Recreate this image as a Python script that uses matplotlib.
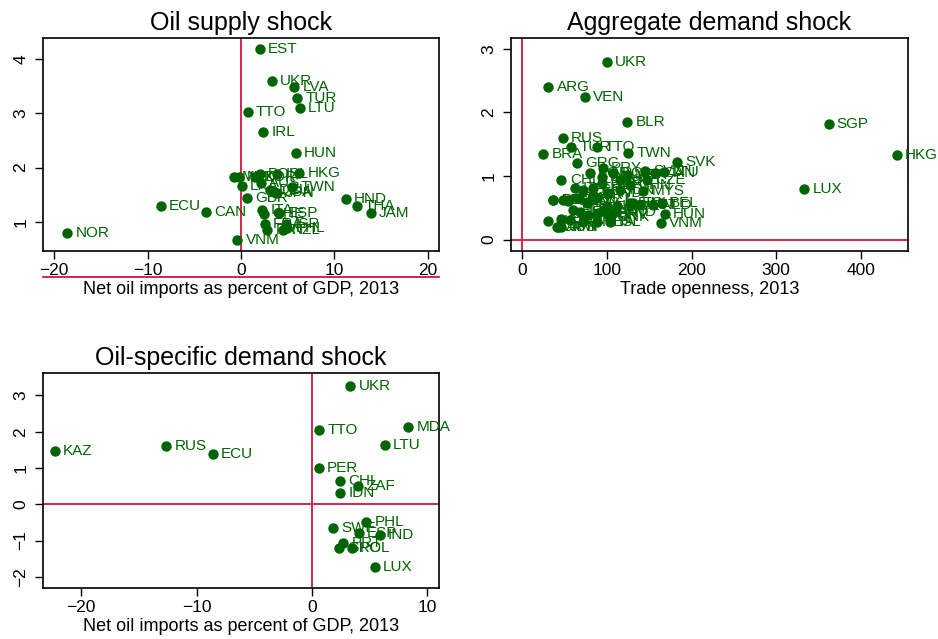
import matplotlib.pyplot as plt

plt.rcParams["font.family"] = ["Liberation Sans", "DejaVu Sans"]

GREEN = "#006400"
RED = "#d2143f"

# ------------------------------
# Data
# Oil supply shock vs net oil imports
p1_iso = ["NOR", "ECU", "CAN", "VNM", "EST", "UKR", "LVA", "TUR", "LTU", "TTO",
          "IRL", "HUN", "HKG", "TWN", "MEX", "NLD", "LKA", "KOR", "POL", "AUS",
          "DEU", "USA", "ISL", "JPN", "GBR", "ITA", "CHE", "ESP", "FRA", "PRT",
          "ISR", "NZL", "PHL", "HND", "THA", "JAM"]
p1_x = [-18.6, -8.6, -3.7, -0.4, 2.0, 3.3, 5.7, 6.0, 6.3, 0.7,
        2.4, 5.85, 6.25, 5.5, -0.8, -0.25, 0.1, 1.5, 2.0, 2.1,
        3.1, 3.5, 3.9, 3.9, 0.65, 2.25, 2.45, 4.1, 2.55, 2.8,
        4.8, 4.5, 4.95, 11.2, 12.4, 13.9]
p1_y = [0.80, 1.29, 1.19, 0.68, 4.18, 3.60, 3.48, 3.27, 3.09, 3.02,
        2.65, 2.26, 1.91, 1.65, 1.82, 1.82, 1.66, 1.82, 1.88, 1.71,
        1.59, 1.56, 1.89, 1.53, 1.45, 1.23, 1.15, 1.16, 0.96, 0.86,
        0.96, 0.85, 0.89, 1.43, 1.29, 1.17]

# Aggregate demand shock vs trade openness
p2_iso = ["UKR", "ARG", "VEN", "BLR", "SGP", "HKG", "LUX", "RUS", "TUR", "TTO",
          "TWN", "BRA", "GRC", "SVK", "PRY", "SVN", "LTU", "CHL", "CZE", "MYS",
          "BEL", "NLD", "HUN", "VNM", "DNK", "USA", "AUS", "JPN", "KOR", "DEU",
          "POL", "MEX", "CAN", "ITA", "ESP", "FRA", "GBR", "IND", "IDN", "CHN",
          "PHL", "PER", "COL", "ZAF", "ISR", "NZL", "NOR", "SWE", "FIN", "AUT",
          "PRT", "IRL", "ROU", "BGR", "HRV", "EST", "LVA", "CHE", "THA", "ISL",
          "KAZ", "ECU", "MDA", "GEO", "JAM", "HND", "URY", "CRI"]
p2_x = [99.9, 30.4, 73.8, 124, 362, 442.6, 333.6, 47.8, 58.0, 87.6,
        125.1, 24.4, 64.0, 182.4, 94.8, 144.5, 167, 46.2, 146.9, 142.8,
        164.6, 154.7, 168.5, 163.8, 103.4, 30.3, 42.2, 46.2, 79.7, 93.6,
        107.3, 123.2, 156.7, 61.9, 71.8, 83.6, 93.6, 101.4, 115.2, 127.1,
        36.2, 48.1, 54.0, 65.9, 75.8, 87.6, 99.5, 111.3, 127.1, 138.9,
        59.9, 67.9, 77.7, 89.5, 101.4, 46.2, 56.0, 71.8, 87.6, 103.4,
        115.2, 131.0, 36.3, 54.0, 40.3, 110.0, 84.0, 96.0]
p2_y = [2.80, 2.40, 2.24, 1.85, 1.82, 1.33, 0.80, 1.59, 1.46, 1.45,
        1.36, 1.34, 1.21, 1.22, 1.12, 1.08, 1.07, 0.94, 0.93, 0.77,
        0.58, 0.55, 0.40, 0.26, 0.36, 0.29, 0.19, 0.20, 1.04, 0.99,
        1.04, 1.02, 1.04, 0.81, 0.78, 0.81, 0.89, 0.73, 0.78, 0.86,
        0.62, 0.62, 0.60, 0.65, 0.57, 0.65, 0.52, 0.52, 0.57, 0.55,
        0.47, 0.44, 0.39, 0.41, 0.39, 0.32, 0.31, 0.28, 0.28, 0.28,
        0.94, 0.58, 0.62, 0.62, 0.19, 0.44, 0.70, 0.47]

# Oil-specific demand shock vs net oil imports
p3_iso = ["UKR", "MDA", "TTO", "LTU", "KAZ", "RUS", "ECU", "PER", "CHL", "ZAF",
          "IDN", "PHL", "SWE", "ESP", "IND", "PRT", "GRC", "POL", "LUX"]
p3_x = [3.3, 8.35, 0.65, 6.3, -22.3, -12.65, -8.6, 0.6, 2.4, 4.0,
        2.45, 4.7, 1.8, 4.05, 5.85, 2.7, 2.35, 3.45, 5.45]
p3_y = [3.27, 2.14, 2.05, 1.64, 1.47, 1.60, 1.39, 1.01, 0.64, 0.51,
        0.32, -0.49, -0.65, -0.80, -0.85, -1.07, -1.21, -1.21, -1.73]

xlabel_oil = "Net oil imports as percent of GDP, 2013"

fg = plt.figure(figsize=(9.38, 6.39), dpi=100)
ax1 = fg.add_axes([0.0458, 0.6072, 0.4222, 0.3333])
ax2 = fg.add_axes([0.5448, 0.6072, 0.4232, 0.3333])
ax3 = fg.add_axes([0.0458, 0.0798, 0.4222, 0.3365])


def draw_panel(ax, iso, x, y, title, xlabel, xlim, ylim, xticks, yticks):
    ax.axvline(0, c=RED, lw=1.3, zorder=1)
    ax.axhline(0, c=RED, lw=1.3, zorder=1, clip_on=False)
    ax.scatter(x, y, s=56, c=GREEN, zorder=3, linewidths=0)
    for name, xi, yi in zip(iso, x, y):
        ax.annotate(
            name,
            xy=(xi, yi),
            xytext=(6, 0),
            textcoords="offset points",
            fontsize=11,
            color=GREEN,
            va="center",
            ha="left",
            zorder=4,
        )
    ax.set_xlim(*xlim)
    ax.set_ylim(*ylim)
    ax.set_xticks(xticks)
    ax.set_yticks(yticks)
    ax.set_title(title, fontsize=18, pad=6)
    ax.set_xlabel(xlabel, fontsize=13, labelpad=2)
    ax.tick_params(axis="both", direction="out", length=5.5, width=1, labelsize=12.5)
    ax.tick_params(axis="x", pad=3)
    ax.tick_params(axis="y", pad=5)
    for lab in ax.get_yticklabels():
        lab.set_rotation(90)
        lab.set_va("center")
    for sp in ax.spines.values():
        sp.set_linewidth(1.2)


draw_panel(ax1, p1_iso, p1_x, p1_y, "Oil supply shock", xlabel_oil,
           (-21.2, 21.2), (0.47, 4.38), [-20, -10, 0, 10, 20], [1, 2, 3, 4])
draw_panel(ax2, p2_iso, p2_x, p2_y, "Aggregate demand shock", "Trade openness, 2013",
           (-13.5, 456), (-0.18, 3.17), [0, 100, 200, 300, 400], [0, 1, 2, 3])
draw_panel(ax3, p3_iso, p3_x, p3_y, "Oil-specific demand shock", xlabel_oil,
           (-23.3, 11.0), (-2.31, 3.62), [-20, -10, 0, 10], [-2, -1, 0, 1, 2, 3])

fg.savefig("out.png", dpi=100)
